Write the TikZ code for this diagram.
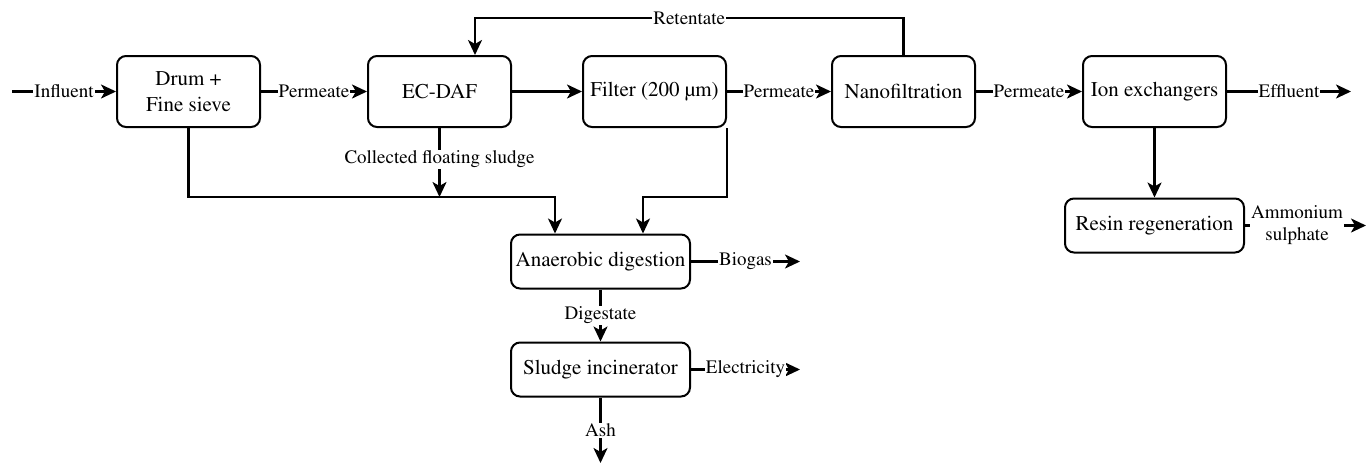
\documentclass[tikz,border=0pt]{standalone}
\usepackage[T1]{fontenc}
\usepackage{mathptmx}
\usetikzlibrary{arrows.meta,calc}
\begin{document}
\begin{tikzpicture}[x=1pt,y=-1pt,
  box/.style={draw, line width=2pt, rounded corners=9pt, align=center,
    minimum width=143pt, minimum height=71pt, inner sep=2pt,
    font=\fontsize{21}{26}\selectfont},
  wbox/.style={box, minimum width=179pt, minimum height=54pt},
  lbl/.style={fill=white, inner sep=1pt, align=center, font=\fontsize{19}{22}\selectfont},
  arr/.style={line width=2.2pt, -{Stealth[length=15pt,width=14pt,inset=4pt]}}]
\useasboundingbox (0,0) rectangle (1368,464);
\fill[white] (0,0) rectangle (1368,464);
% boxes
\node[box] (drum) at (188.5,91.5) {Drum +\\Fine sieve};
\node[box] (ecdaf) at (439.5,91.5) {EC-DAF};
\node[box] (filter) at (654.5,91.5) {Filter (200 \textmu m)};
\node[box] (nano) at (903.5,91.5) {Nanofiltration};
\node[box] (ion) at (1154.5,91.5) {Ion exchangers};
\node[wbox] (resin) at (1154.5,225.5) {Resin regeneration};
\node[wbox] (ad) at (600.5,261.5) {Anaerobic digestion};
\node[wbox] (inc) at (600.5,369.5) {Sludge incinerator};
% free ends and junctions
\coordinate (inStart) at (12,91.5);
\coordinate (effEnd) at (1351,91.5);
\coordinate (amEnd) at (1366,225.5);
\coordinate (bioEnd) at (800,261.5);
\coordinate (elEnd) at (800,369.5);
\coordinate (ashEnd) at (600.5,463);
\coordinate (busL) at (555,197);
\coordinate (busR) at (643,197);
\coordinate (busE) at (439.5,197);
\coordinate (topY) at (0,18);
\coordinate (ecIn) at (475,56);
% main row
\draw[arr] (inStart) -- node[lbl]{Influent} (drum.west);
\draw[arr] (drum.east) -- node[lbl]{Permeate} (ecdaf.west);
\draw[arr] (ecdaf.east) -- (filter.west);
\draw[arr] (filter.east) -- node[lbl]{Permeate} (nano.west);
\draw[arr] (nano.east) -- node[lbl]{Permeate} (ion.west);
\draw[arr] (ion.east) -- node[lbl]{Effluent} (effEnd);
\draw[arr] (ion.south) -- (resin.north);
\draw[arr] (resin.east) -- node[lbl, pos=0.43]{Ammonium\\sulphate} (amEnd);
% retentate
\draw[arr] (nano.north) -- (nano.north |- topY) -- node[lbl]{Retentate} (ecIn |- topY) -- (ecdaf.north -| ecIn);
% sludge lines
\draw[arr] (drum.south) |- (busL) -- (busL |- ad.north);
\draw[arr] (ecdaf.south) -- node[lbl, pos=0.45]{Collected floating sludge} (busE);
\draw[arr] (filter.south east) |- (busR) -- (busR |- ad.north);
% digestion chain
\draw[arr] (ad.east) -- node[lbl]{Biogas} (bioEnd);
\draw[arr] (ad.south) -- node[lbl]{Digestate} (inc.north);
\draw[arr] (inc.east) -- node[lbl]{Electricity} (elEnd);
\draw[arr] (inc.south) -- node[lbl]{Ash} (ashEnd);
\end{tikzpicture}
\end{document}
